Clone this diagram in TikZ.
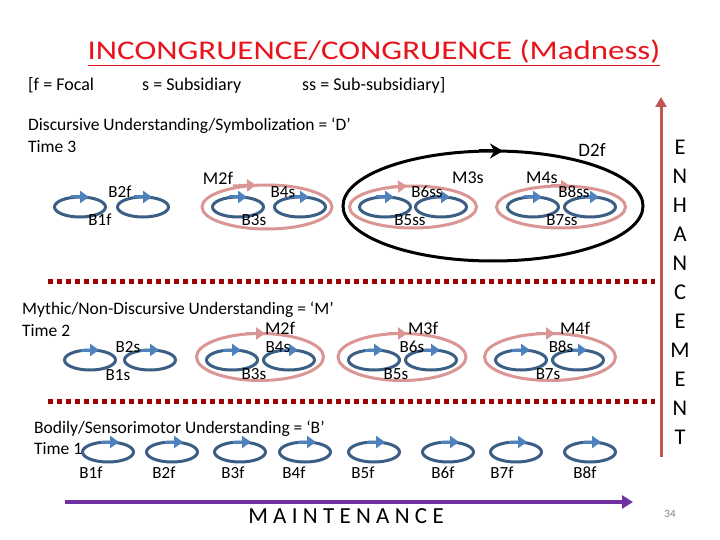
\documentclass[tikz,border=0pt]{standalone}
\usepackage{fontspec}
\setmainfont{Carlito}
\newfontfamily\titlefont[FakeStretch=1.22]{Carlito}
\usetikzlibrary{arrows.meta, positioning, shapes.geometric}
\definecolor{cycblue}{HTML}{3B5E84}
\definecolor{tipblue}{HTML}{4F81BD}
\definecolor{rosepink}{HTML}{D99694}
\definecolor{enhred}{HTML}{BE5654}
\definecolor{dotred}{HTML}{A00000}
\definecolor{maintpurple}{HTML}{7030A0}
\definecolor{titlered}{HTML}{E8141B}

\begin{document}
\begin{tikzpicture}[x=1pt, y=-1pt,
  bcyc/.style={ellipse, draw=cycblue, line width=3pt, minimum width=51pt, minimum height=20pt, inner sep=0pt, outer sep=0pt},
  mcyc/.style={ellipse, draw=rosepink, line width=3pt, inner sep=0pt, outer sep=0pt},
  barr/.style={tipblue, line width=3pt, -{Triangle[length=9pt, width=12pt]}},
  marr/.style={rosepink, line width=3pt, -{Triangle[length=9pt, width=12pt]}},
  lbl/.style={font=\fontsize{17}{17}\selectfont, inner sep=0pt},
  mlbl/.style={font=\fontsize{18}{18}\selectfont, inner sep=0pt},
  head/.style={font=\fontsize{17.5}{17.5}\selectfont, anchor=base west, inner sep=0pt},
  dotline/.style={dotred, line width=5pt, dash pattern=on 5pt off 4pt}]

\useasboundingbox (0,0) rectangle (720,540);

% Title
\node[font=\titlefont\fontsize{27}{27}\selectfont, text=titlered, anchor=base] (title) at (374,60)
  {\underline{INCONGRUENCE/CONGRUENCE (Madness)}};

% Key
\node[head, font=\fontsize{18}{18}\selectfont] (kf) at (28,91) {[f = Focal};
\node[head, font=\fontsize{18}{18}\selectfont] (ks) at (142,91) {s = Subsidiary};
\node[head, font=\fontsize{18}{18}\selectfont] (kss) at (302,91) {ss = Sub-subsidiary]};

% --- Discursive row ---
\node[head] (dhead) at (28,131) {Discursive Understanding/Symbolization = ‘D’};
\node[head] (dtime) at (28,153) {Time 3};

\node[ellipse, draw=black, line width=3pt, minimum width=300pt, minimum height=110pt, inner sep=0pt, outer sep=0pt] (d2f) at (493,206) {};
\node[mcyc, minimum width=130pt, minimum height=44pt] (dm2) at (267,207) {};
\node[mcyc, minimum width=127pt, minimum height=42pt] (dm3) at (413,207) {};
\node[mcyc, minimum width=129pt, minimum height=42pt] (dm4) at (561,207) {};

\node[bcyc] (db1) at (80,207) {};
\node[bcyc] (db2) at (143,207) {};
\node[bcyc] (db3) at (238,207) {};
\node[bcyc] (db4) at (300,207) {};
\node[bcyc] (db5) at (385,207) {};
\node[bcyc] (db6) at (441,207) {};
\node[bcyc] (db7) at (533,207) {};
\node[bcyc] (db8) at (590,207) {};

\foreach \n in {db1,db2,db3,db4,db5,db6,db7,db8}
  \draw[barr] ([xshift=-9pt]\n.north) -- ([xshift=9pt]\n.north);
\draw[marr] ([xshift=-34pt, yshift=-1pt]dm2.north) -- ([xshift=-11pt]dm2.north);
\draw[marr] ([xshift=-22pt, yshift=-1pt]dm3.north) -- ([xshift=-6pt]dm3.north);
\draw[marr] ([xshift=-10pt]dm4.north) -- ([xshift=9pt]dm4.north);
\draw[black, line width=3pt, -{Stealth[length=13pt, width=15pt]}] ([xshift=-14pt]d2f.north) -- ([xshift=10pt]d2f.north);

\node[lbl] (ld2) at (120,192) {B2f};
\node[lbl] (ld1) at (100,220) {B1f};
\node[lbl] (ld4) at (283,192) {B4s};
\node[lbl] (ld3) at (254,220) {B3s};
\node[lbl] (ld6) at (427,192) {B6ss};
\node[lbl] (ld5) at (410,220) {B5ss};
\node[lbl] (ld8) at (574,192) {B8ss};
\node[lbl] (ld7) at (562,220) {B7ss};
\node[mlbl] (ldm2) at (218,178) {M2f};
\node[mlbl] (ldm3) at (468,178) {M3s};
\node[mlbl] (ldm4) at (542,178) {M4s};
\node[mlbl, font=\fontsize{19}{19}\selectfont] (ld2f) at (592,150) {D2f};

% Separators
\draw[dotline] (48,281) -- (655,281);
\draw[dotline] (48,401) -- (655,401);

% --- Mythic row ---
\node[head] (mhead) at (22,314) {Mythic/Non-Discursive Understanding = ‘M’};
\node[head] (mtime) at (22,336) {Time 2};

\node[mcyc, minimum width=127pt, minimum height=47pt] (mm2) at (260,357) {};
\node[mcyc, minimum width=128pt, minimum height=47pt] (mm3) at (402,357) {};
\node[mcyc, minimum width=131pt, minimum height=47pt] (mm4) at (550,357) {};

\node[bcyc] (mb1) at (90,360) {};
\node[bcyc] (mb2) at (150,360) {};
\node[bcyc] (mb3) at (232,360) {};
\node[bcyc] (mb4) at (289,360) {};
\node[bcyc] (mb5) at (374,360) {};
\node[bcyc] (mb6) at (431,360) {};
\node[bcyc] (mb7) at (521,360) {};
\node[bcyc] (mb8) at (578,360) {};

\foreach \n in {mb1,mb2,mb3,mb4,mb5,mb6,mb7,mb8}
  \draw[barr] ([xshift=-9pt]\n.north) -- ([xshift=9pt]\n.north);
\foreach \n in {mm2,mm3,mm4}
  \draw[marr] ([xshift=-14pt]\n.north) -- ([xshift=5pt]\n.north);

\node[lbl] (lm2) at (128,347) {B2s};
\node[lbl] (lm1) at (118,375) {B1s};
\node[lbl] (lm4) at (278,347) {B4s};
\node[lbl] (lm3) at (254,374) {B3s};
\node[lbl] (lm6) at (412,347) {B6s};
\node[lbl] (lm5) at (396,374) {B5s};
\node[lbl] (lm8) at (561,347) {B8s};
\node[lbl] (lm7) at (548,374) {B7s};
\node[mlbl] (lmm2) at (280,328) {M2f};
\node[mlbl] (lmm3) at (423,328) {M3f};
\node[mlbl] (lmm4) at (575,328) {M4f};

% --- Bodily row ---
\node[head] (bhead) at (34,433) {Bodily/Sensorimotor Understanding = ‘B’};
\node[head] (btime) at (34,454) {Time 1};

\node[bcyc] (bb1) at (108,452) {};
\node[bcyc] (bb2) at (172,452) {};
\node[bcyc] (bb3) at (240,452) {};
\node[bcyc] (bb4) at (305,452) {};
\node[bcyc] (bb5) at (374,452) {};
\node[bcyc] (bb6) at (448,452) {};
\node[bcyc] (bb7) at (516,452) {};
\node[bcyc] (bb8) at (590,452) {};

\foreach \n in {bb1,bb2,bb3,bb4,bb5,bb6,bb7,bb8}
  \draw[barr] ([xshift=-7pt]\n.north) -- ([xshift=11pt]\n.north);

\node[lbl] (lb1) at (91,473) {B1f};
\node[lbl] (lb2) at (164,473) {B2f};
\node[lbl] (lb3) at (233,473) {B3f};
\node[lbl] (lb4) at (294,473) {B4f};
\node[lbl] (lb5) at (363,473) {B5f};
\node[lbl] (lb6) at (443,473) {B6f};
\node[lbl] (lb7) at (502,473) {B7f};
\node[lbl] (lb8) at (585,473) {B8f};

% Enhancement axis
\coordinate (enhbot) at (661,457);
\coordinate (enhtop) at (661,97);
\draw[enhred, line width=3pt, -{Triangle[length=10pt, width=11pt]}] (enhbot) -- (enhtop);
\node[font=\fontsize{22.5}{29}\selectfont, align=center, inner sep=0pt] (enh) at (680,292)
  {E\\N\\H\\A\\N\\C\\E\\M\\E\\N\\T};

% Maintenance axis
\coordinate (maintstart) at (65,502);
\coordinate (maintend) at (633,502);
\draw[maintpurple, line width=4pt, -{Triangle[length=11pt, width=13pt]}] (maintstart) -- (maintend);
\node[font=\fontsize{23}{23}\selectfont\addfontfeature{LetterSpace=23}, inner sep=0pt] (maint) at (346,516) {MAINTENANCE};

\node[font=\fontsize{11}{11}\selectfont, text=gray, inner sep=0pt] (pageno) at (670,514) {34};

\end{tikzpicture}
\end{document}
